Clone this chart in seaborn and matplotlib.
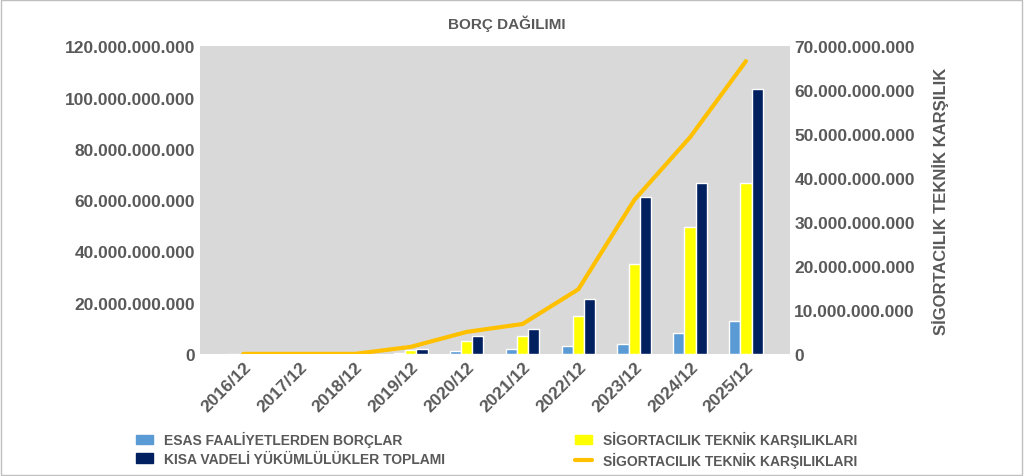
import numpy as np
import pandas as pd
import matplotlib
matplotlib.use('Agg')
import matplotlib.pyplot as plt
import seaborn as sns
from matplotlib.ticker import FuncFormatter
from matplotlib.patches import Patch
from matplotlib.lines import Line2D

years = ['2016/12', '2017/12', '2018/12', '2019/12', '2020/12', '2021/12', '2022/12', '2023/12', '2024/12', '2025/12']
esas = [0, 0, 0, 0.3e9, 1.2e9, 1.8e9, 3.0e9, 4.0e9, 8.0e9, 12.8e9]
sigorta = [0, 0, 0, 1.6e9, 5.0e9, 6.8e9, 14.7e9, 35.0e9, 49.3e9, 66.6e9]
kisa = [0, 0, 0, 2.0e9, 6.8e9, 9.8e9, 21.5e9, 61.0e9, 66.5e9, 103.5e9]

lbl_esas = 'ESAS FAALİYETLERDEN BORÇLAR'
lbl_sig = 'SİGORTACILIK TEKNİK KARŞILIKLARI'
lbl_kisa = 'KISA VADELİ YÜKÜMLÜLÜKLER TOPLAMI'

df = pd.DataFrame({'Dönem': years * 3,
                   'Değer': esas + sigorta + kisa,
                   'Seri': [lbl_esas] * 10 + [lbl_sig] * 10 + [lbl_kisa] * 10})

sns.set_theme(style='white')
plt.rcParams['font.family'] = ['Liberation Sans', 'DejaVu Sans']
colors = {lbl_esas: '#5b9bd5', lbl_sig: '#ffff00', lbl_kisa: '#002060'}
txt = '#595959'

fig = plt.figure(figsize=(10.24, 4.77), dpi=100)
ax = fig.add_axes([0.195, 0.256, 0.576, 0.645])
ax.set_facecolor('#d9d9d9')
sns.barplot(data=df, x='Dönem', y='Değer', hue='Seri', palette=colors,
            width=0.6, saturation=1, ax=ax, legend=False)
ax.set_ylim(0, 120e9)
ax.set_yticks(np.arange(0, 121e9, 20e9))
fmt = FuncFormatter(lambda v, p: f'{v:,.0f}'.replace(',', '.'))
ax.yaxis.set_major_formatter(fmt)
ax.set_xlabel('')
ax.set_ylabel('')
for s in ax.spines.values():
    s.set_visible(False)
ax.tick_params(axis='both', length=0, labelsize=12.5, labelcolor=txt)
for t in ax.get_yticklabels():
    t.set_fontweight('bold')
for t in ax.get_xticklabels():
    t.set_rotation(45)
    t.set_ha('right')
    t.set_rotation_mode('anchor')
    t.set_fontweight('bold')

ax2 = ax.twinx()
ax2.plot(range(len(years)), sigorta, color='#ffc000', lw=3)
ax2.set_ylim(0, 70e9)
ax2.set_yticks(np.arange(0, 71e9, 10e9))
ax2.yaxis.set_major_formatter(fmt)
for s in ax2.spines.values():
    s.set_visible(False)
ax2.tick_params(axis='y', length=0, labelsize=12.5, labelcolor=txt)
for t in ax2.get_yticklabels():
    t.set_fontweight('bold')
ax2.set_ylabel('SİGORTACILIK TEKNİK KARŞILIK', color=txt, fontsize=12, fontweight='bold', labelpad=12)

fig.text(0.495, 0.94, 'BORÇ DAĞILIMI', ha='center', fontsize=11, fontweight='bold', color=txt)

handles = [Patch(color=colors[lbl_esas], label=lbl_esas),
           Patch(color=colors[lbl_kisa], label=lbl_kisa),
           Patch(color=colors[lbl_sig], label=lbl_sig),
           Line2D([0], [0], color='#ffc000', lw=3, label=lbl_sig)]
leg = fig.legend(handles=handles, ncol=2, loc='lower left', bbox_to_anchor=(0.125, 0.0, 0.72, 0.1),
                 mode='expand', frameon=False, fontsize=10, handlelength=1.2,
                 labelspacing=0.3, borderaxespad=0.2)
for t in leg.get_texts():
    t.set_color(txt)
    t.set_fontweight('bold')

fig.patches.append(plt.Rectangle((0.001, 0.002), 0.997, 0.995, transform=fig.transFigure,
                                 fill=False, edgecolor='#bfbfbf', lw=1))
fig.savefig('out.png', dpi=100)
